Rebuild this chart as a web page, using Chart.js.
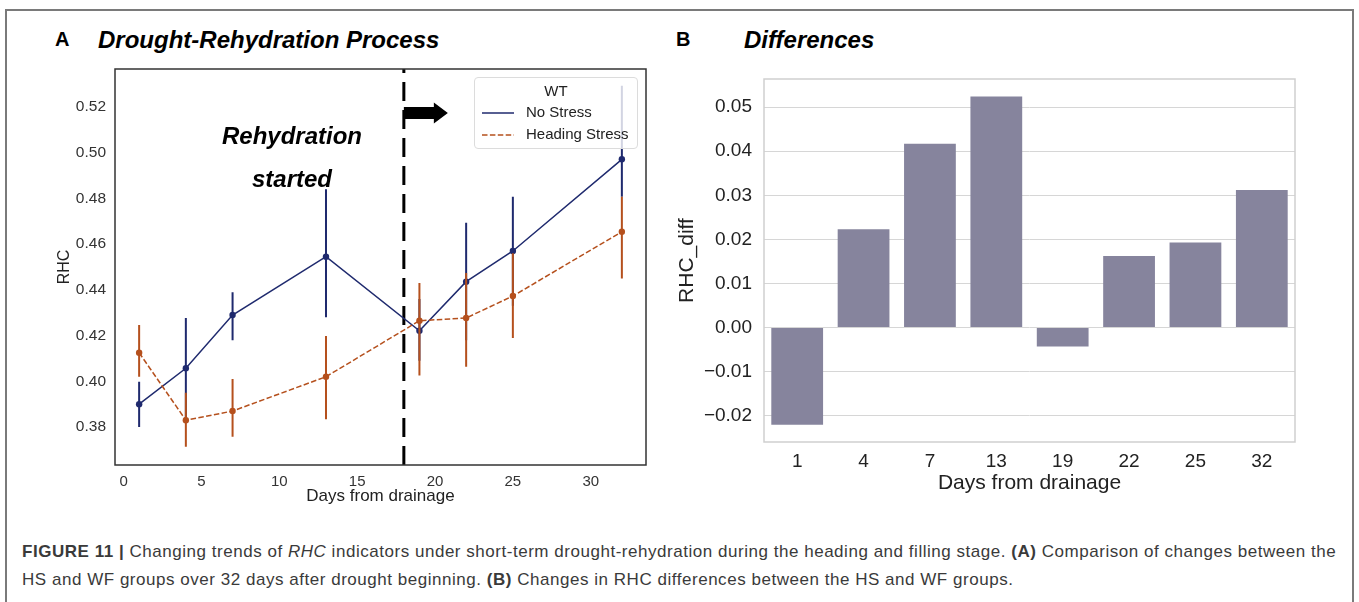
<!DOCTYPE html>
<html><head><meta charset="utf-8">
<script src="https://cdn.jsdelivr.net/npm/chart.js@4/dist/chart.umd.min.js"></script>
<style>
html,body{margin:0;padding:0;}
body{width:1359px;height:602px;background:#fff;position:relative;overflow:hidden;font-family:"Liberation Sans",Arial,sans-serif;color:#000;}
.abs{position:absolute;white-space:nowrap;}
#frame{left:5px;top:9px;width:1349px;height:640px;border:2px solid #7a7a7a;box-sizing:border-box;}
.panel{font-weight:bold;font-size:20px;}
.ttl{font-weight:bold;font-style:italic;font-size:24px;}
.ann{font-weight:bold;font-style:italic;font-size:24px;text-align:center;width:200px;}
#legend{left:474px;top:77px;width:164px;height:72px;border:1px solid #dcdcdc;border-radius:4px;background:rgba(255,255,255,0.8);box-sizing:border-box;font-size:15px;color:#222;}
#legend .t{position:absolute;left:0;width:100%;text-align:center;top:4px;}
#legend .r{position:absolute;left:7px;}
#legend svg{vertical-align:middle;margin-right:12px;}
#caption{left:22px;top:538px;font-size:17px;letter-spacing:0.53px;color:#3a3a3a;line-height:28px;}
</style></head>
<body>
<div id="frame" class="abs"></div>
<div class="abs panel" style="left:55px;top:28px;">A</div>
<div class="abs ttl" style="left:98px;top:26px;">Drought-Rehydration Process</div>
<div class="abs panel" style="left:676px;top:28px;">B</div>
<div class="abs ttl" style="left:744px;top:26px;">Differences</div>

<div class="abs" style="left:40px;top:60px;width:620px;height:450px;"><canvas id="c1" width="620" height="450"></canvas></div>
<div class="abs" style="left:660px;top:60px;width:680px;height:450px;"><canvas id="c2" width="680" height="450"></canvas></div>

<div class="abs ann" style="left:192px;top:122px;">Rehydration</div>
<div class="abs ann" style="left:192px;top:165px;">started</div>

<div id="legend" class="abs">
  <div class="t">WT</div>
  <div class="r" style="top:25px;"><svg width="32" height="4"><line x1="0" y1="2" x2="32" y2="2" stroke="#1f2a6e" stroke-width="1.5"/></svg>No Stress</div>
  <div class="r" style="top:47px;"><svg width="32" height="4"><line x1="0" y1="2" x2="32" y2="2" stroke="#b5501d" stroke-width="1.5" stroke-dasharray="5.5 2.4"/></svg>Heading Stress</div>
</div>

<div id="caption" class="abs"><b>FIGURE 11 |</b> Changing trends of <i>RHC</i> indicators under short-term drought-rehydration during the heading and filling stage. <b>(A)</b> Comparison of changes between the<br>HS and WF groups over 32 days after drought beginning. <b>(B)</b> Changes in RHC differences between the HS and WF groups.</div>

<script>
// ---------- data (panel A) ----------
const days = [1, 4, 7, 13, 19, 22, 25, 32];
const noStress   = [0.390, 0.4057, 0.429, 0.4545, 0.4221, 0.4436, 0.457, 0.4971];
const noStressLo = [0.380, 0.383, 0.418, 0.428, 0.409, 0.418, 0.433, 0.4807];
const noStressHi = [0.3998, 0.4277, 0.439, 0.484, 0.436, 0.4694, 0.4807, 0.5293];
const heading    = [0.4125, 0.383, 0.387, 0.402, 0.4265, 0.4277, 0.4373, 0.4654];
const headingLo  = [0.402, 0.3714, 0.3758, 0.3834, 0.4025, 0.4064, 0.419, 0.445];
const headingHi  = [0.4246, 0.395, 0.401, 0.4198, 0.443, 0.4474, 0.456, 0.4807];
const xTicksA = [0, 5, 10, 15, 20, 25, 30];
const yTicksA = [0.38, 0.40, 0.42, 0.44, 0.46, 0.48, 0.50, 0.52];
const rehydrationDay = 18;
const xRangeA = [-0.55, 33.55];
const yRangeA = [0.3634, 0.5366];

// ---------- data (panel B) ----------
const diffDays = ['1', '4', '7', '13', '19', '22', '25', '32'];
const rhcDiff  = [-0.0221, 0.0223, 0.0417, 0.0524, -0.0043, 0.0162, 0.0193, 0.0312];
const yTicksB  = [-0.02, -0.01, 0.00, 0.01, 0.02, 0.03, 0.04, 0.05];
const yRangeB  = [-0.026, 0.0564];

const BLUE = '#1f2a6e', ORANGE = '#b5501d';
const FONT = '"Liberation Sans", Arial, sans-serif';

function errSegments(xs, lo, hi) {
  const d = [];
  xs.forEach((x, i) => { d.push({x, y: lo[i]}, {x, y: hi[i]}, {x, y: null}); });
  return d;
}
const pts = (xs, ys) => xs.map((x, i) => ({x, y: ys[i]}));

const framePlugin = {
  id: 'frameBox',
  afterDraw(chart, args, opts) {
    const {left, top, right, bottom} = chart.chartArea;
    const ctx = chart.ctx;
    ctx.save();
    ctx.strokeStyle = opts.color; ctx.lineWidth = opts.width;
    ctx.strokeRect(left, top, right - left, bottom - top);
    ctx.restore();
  }
};
const arrowPlugin = {
  id: 'arrow',
  afterDatasetsDraw(chart) {
    const x0 = chart.scales.x.getPixelForValue(rehydrationDay);
    const cy = chart.chartArea.top + 44;
    const ctx = chart.ctx;
    ctx.save();
    ctx.fillStyle = '#000';
    ctx.beginPath();
    ctx.moveTo(x0, cy - 6);
    ctx.lineTo(x0 + 30, cy - 6);
    ctx.lineTo(x0 + 30, cy - 10.5);
    ctx.lineTo(x0 + 44, cy);
    ctx.lineTo(x0 + 30, cy + 10.5);
    ctx.lineTo(x0 + 30, cy + 6);
    ctx.lineTo(x0, cy + 6);
    ctx.closePath();
    ctx.fill();
    ctx.restore();
  }
};
const noPadX = s => { s.paddingLeft = 0; s.paddingRight = 0; };
const noPadY = s => { s.paddingTop = 0; s.paddingBottom = 0; };

new Chart(document.getElementById('c1'), {
  type: 'line',
  data: {
    datasets: [
      {data: errSegments(days, headingLo, headingHi), borderColor: ORANGE, borderWidth: 2, pointRadius: 0, spanGaps: false, order: 0},
      {data: pts(days, heading), borderColor: ORANGE, backgroundColor: ORANGE, borderWidth: 1.5, borderDash: [5.5, 2.4], pointRadius: 3.2, pointBorderWidth: 0, pointBackgroundColor: ORANGE, order: 1},
      {data: errSegments(days, noStressLo, noStressHi), borderColor: BLUE, borderWidth: 2, pointRadius: 0, spanGaps: false, order: 2},
      {data: pts(days, noStress), borderColor: BLUE, backgroundColor: BLUE, borderWidth: 1.5, pointRadius: 3.2, pointBorderWidth: 0, pointBackgroundColor: BLUE, order: 3},
      {data: [{x: rehydrationDay, y: yRangeA[0]}, {x: rehydrationDay, y: yRangeA[1]}], borderColor: '#000', borderWidth: 3, borderDash: [19, 9], pointRadius: 0, order: 4}
    ]
  },
  options: {
    responsive: false, animation: false,
    layout: {padding: {top: 9, right: 14, left: 0, bottom: 0}},
    plugins: {legend: {display: false}, tooltip: {enabled: false}, frameBox: {color: '#333', width: 1.5}},
    scales: {
      x: {
        type: 'linear', min: xRangeA[0], max: xRangeA[1],
        afterBuildTicks: s => { s.ticks = xTicksA.map(v => ({value: v})); },
        afterFit: s => { s.height = 45; noPadX(s); },
        grid: {display: false, drawTicks: false}, border: {display: false},
        ticks: {padding: 8, color: '#333', font: {family: FONT, size: 15}, maxRotation: 0, callback: v => String(v)},
        title: {display: true, text: 'Days from drainage', color: '#222', font: {family: FONT, size: 17}, padding: {top: 0, bottom: 3}}
      },
      y: {
        min: yRangeA[0], max: yRangeA[1],
        afterBuildTicks: s => { s.ticks = yTicksA.map(v => ({value: v})); },
        afterFit: s => { s.width = 75; noPadY(s); },
        grid: {display: false, drawTicks: false}, border: {display: false},
        ticks: {padding: 9, color: '#333', font: {family: FONT, size: 15.5}, callback: v => v.toFixed(2)},
        title: {display: true, text: 'RHC', color: '#222', font: {family: FONT, size: 16}, padding: {top: 15, bottom: 0}}
      }
    }
  },
  plugins: [framePlugin, arrowPlugin]
});

new Chart(document.getElementById('c2'), {
  type: 'bar',
  data: {
    labels: diffDays,
    datasets: [{data: rhcDiff, backgroundColor: '#86849d', borderWidth: 0, barPercentage: 0.78, categoryPercentage: 1.0}]
  },
  options: {
    responsive: false, animation: false,
    layout: {padding: {top: 19, right: 45, left: 0, bottom: 0}},
    plugins: {legend: {display: false}, tooltip: {enabled: false}, frameBox: {color: '#cfcfcf', width: 1.5}},
    scales: {
      x: {
        afterFit: s => { s.height = 68; noPadX(s); },
        grid: {display: false, drawTicks: false}, border: {display: false},
        ticks: {padding: 8, color: '#222', font: {family: FONT, size: 19}},
        title: {display: true, text: 'Days from drainage', color: '#222', font: {family: FONT, size: 21}, padding: {top: 0, bottom: 14}}
      },
      y: {
        min: yRangeB[0], max: yRangeB[1],
        afterBuildTicks: s => { s.ticks = yTicksB.map(v => ({value: v})); },
        afterFit: s => { s.width = 104; noPadY(s); },
        grid: {display: true, drawTicks: false, color: '#d6d6d6', lineWidth: 1}, border: {display: false},
        ticks: {padding: 12, color: '#222', font: {family: FONT, size: 19}, callback: v => v.toFixed(2).replace('-', '\u2212')},
        title: {display: true, text: 'RHC_diff', color: '#222', font: {family: FONT, size: 21}, padding: {top: 15, bottom: 0}}
      }
    }
  },
  plugins: [framePlugin]
});
</script>
</body></html>
